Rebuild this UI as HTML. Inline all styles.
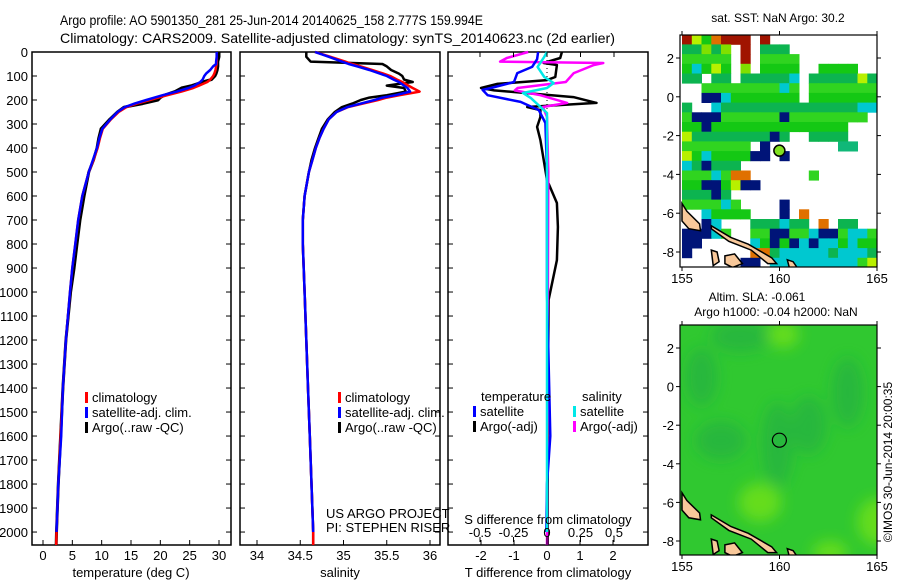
<!DOCTYPE html>
<html><head><meta charset="utf-8"><style>
html,body{margin:0;padding:0;background:#fff;}
svg{display:block;font-family:"Liberation Sans",sans-serif;}
</style></head><body>
<svg id="fig" width="900" height="580" viewBox="0 0 900 580" xmlns="http://www.w3.org/2000/svg">
<text x="60" y="25" font-size="14" textLength="423" lengthAdjust="spacingAndGlyphs">Argo profile: AO 5901350_281 25-Jun-2014 20140625_158 2.777S 159.994E</text>
<text x="60" y="43" font-size="14" textLength="555" lengthAdjust="spacingAndGlyphs">Climatology: CARS2009. Satellite-adjusted climatology: synTS_20140623.nc (2d earlier)</text>
<g id="plots"></g>
</svg>
<script>
// ---- profile data (depth in m) ----
const depths   = [0,20,40,50,60,75,90,100,115,125,140,150,165,180,190,200,215,230,250,280,320,360,400,450,500,600,700,800,900,1000,1200,1400,1600,1800,2000,2054];
const tempClim = [29.6,29.6,29.6,29.6,29.5,29.4,29.2,29.0,28.5,28.0,26.6,25.6,23.6,21.2,19.7,18.2,16.0,14.2,12.9,11.6,10.2,9.7,9.3,8.6,7.8,6.7,6.0,5.5,5.0,4.6,3.9,3.4,3.0,2.6,2.3,2.25];
const tempSat  = [29.6,29.6,29.5,29.5,29.0,28.5,27.8,27.5,27.2,26.8,25.8,24.8,22.8,20.4,19.0,17.6,15.6,13.9,12.7,11.5,10.1,9.6,9.2,8.5,7.8,6.7,6.0,5.5,5.0,4.6,3.9,3.4,3.1,2.6,2.3];
const tempArgo = [30.0,30.0,29.8,29.8,29.8,29.7,29.5,29.3,28.7,27.2,25.4,23.6,22.5,20.7,20.0,19.6,17.0,13.8,12.7,11.4,9.9,9.5,9.2,8.6,7.8,7.0,6.3,5.8,5.3,4.7,3.9,3.4,3.0,2.6,2.3,2.25];
const salClim  = [34.67,34.85,35.02,35.1,35.2,35.33,35.46,35.54,35.62,35.68,35.75,35.8,35.88,35.65,35.5,35.4,35.22,35.05,34.92,34.83,34.77,34.72,34.68,34.64,34.6,34.55,34.53,34.53,34.54,34.55,34.57,34.59,34.61,34.63,34.65,34.65];
const salSat   = [34.67,34.83,34.98,35.06,35.16,35.3,35.42,35.5,35.58,35.64,35.7,35.74,35.77,35.6,35.45,35.36,35.2,35.04,34.92,34.83,34.77,34.72,34.68,34.64,34.6,34.55,34.53,34.53,34.54,34.55,34.57,34.59,34.61,34.63,34.65];
const salArgo  = [34.57,34.57,34.62,35.45,35.5,35.55,35.64,35.68,35.7,35.8,35.5,35.7,35.72,35.5,35.3,35.2,35.1,34.98,34.9,34.82,34.75,34.71,34.67,34.63,34.6,34.55,34.53,34.53,34.54,34.55,34.57,34.59,34.61,34.63,34.65,34.65];
// ---- difference panel data ----
const dTArgoDepth = [0,25,46,54,104,117,133,150,160,175,188,212,229,242,271,312,367,533,629,729,867,1033,1500,2054];
const dTArgo      = [0.45,0.4,-0.1,0.3,0.25,0.0,-1.5,-2.0,-1.6,-0.3,0.8,1.5,-0.6,-0.2,-0.2,-0.3,-0.2,0.0,0.3,0.33,0.3,0.05,0.02,0.02];
const dTSatDepth  = [0,30,62,88,125,150,158,180,208,242,296,500,1000,1600,1800,2000];
const dTSat       = [-0.27,-0.3,-0.45,-0.9,-1.0,-1.7,-1.95,-1.8,-0.8,-0.25,-0.05,0.0,0.0,0.1,0.0,-0.02];
const dSArgoDepth = [0,25,40,46,54,88,125,150,160,180,212,229,271,500,2054];
const dSArgo      = [-0.14,-0.3,-0.35,0.42,0.35,0.2,0.14,-0.22,-0.24,-0.05,0.15,-0.03,0.0,0.01,0.0];
const dSSatDepth  = [0,20,62,104,129,150,171,192,254,1000,2000];
const dSSat       = [0.0,-0.02,-0.07,-0.02,0.05,0.0,-0.18,-0.12,0.0,0.0,0.0];
// ---- axis ticks ----
const depthTicks = [0,100,200,300,400,500,600,700,800,900,1000,1100,1200,1300,1400,1500,1600,1700,1800,1900,2000];
const tempTicks = [0,5,10,15,20,25,30];
const salTicks = [34,34.5,35,35.5,36];
const salTickLabels = ["34","34.5","35","35.5","36"];
const dTTicks = [-2,-1,0,1,2];
const dSTicks = [-0.5,-0.25,0,0.25,0.5];
const dSTickLabels = ["-0.5","-0.25","0","0.25","0.5"];
// ---- SST map (0.5 deg cells, rows from 3.2N southward, cols from 155E) ----
const sstRows = [
"rygorrr.r...........",
"gglgl.r.ggg.........",
"ggggg.r.gggg........",
"gcgyg.l.gggg..gggg..",
"gg.gg.gggggc.gggggyg",
"..ggggggggcg.ggggggg",
"..bbcggggggg.ggggggg",
"g..cggggggggggggggcc",
"gbbbggggggbgggggggg.",
"ggbgggggggggggggg...",
"yggggggggbg..gggg...",
"ggggggg.b.......GG..",
"ygcggggbb.b.........",
"cgbggg..............",
"gggcgoo......g......",
"ggbbgybb............",
"gggbg...............",
"ggggcg....b.........",
"..cgggg...b.o.......",
"..bc...gggcgg.o.gg..",
"bbbcg..ggbbggcbbgccg",
"bb.....cgbgbcbccgcgg",
"b......oogcccccgcccg",
"......bb.cccccccccgy"];
const sstColors = {r:"#a01400",o:"#e07000",y:"#b8f000",l:"#80e000",c:"#00c8d0",b:"#001478",G:"#10b878"};
const greens = ["#14c814","#0cb450","#30d420"];
// SLA blobs: lon, lat, rx(deg), ry(deg), type
const slaLon = [157,159.9,163.5,158,159,165,162.6,160.2,156,161.5];
const slaLat = [-2.8,-3.0,-0.3,2.6,-6.0,-7.0,-8.6,2.7,0.5,-2];
const slaRx  = [1.3,0.8,0.8,1.5,1.1,1.0,0.9,0.8,0.8,0.9];
const slaRy  = [1.0,2.2,1.8,0.8,1.0,1.2,0.6,0.7,1.5,1.5];
const slaType= ["d","d","d","d","l","l","l","l","d","d"];

const NS="http://www.w3.org/2000/svg";
const root=document.getElementById('plots');
function mk(tag,attrs,parent,text){const e=document.createElementNS(NS,tag);for(const k in attrs)e.setAttribute(k,attrs[k]);if(text!==undefined)e.textContent=text;(parent||root).appendChild(e);return e;}

const yTop=52, yBot=545, dMax=2054;
const yD=d=>yTop+d*(yBot-yTop)/dMax;
function linX(v0,x0,v1,x1){return v=>x0+(v-v0)*(x1-x0)/(v1-v0);}
const xT=linX(0,43,30,219);
const xS=linX(34,257,36,430);
const xdT=linX(0,547,2,613);
const xdS=linX(0,547,0.5,614);

function frame(x0,x1,name){
  const r=mk('rect',{x:x0,y:yTop,width:x1-x0,height:yBot-yTop,fill:'none',stroke:'#000','stroke-width':1.5});
  
  
  for(const d of depthTicks){
    const t=mk('line',{x1:x0,x2:x0+5,y1:yD(d),y2:yD(d),stroke:'#000'});
    
    
    const t2=mk('line',{x1:x1,x2:x1-5,y1:yD(d),y2:yD(d),stroke:'#000'});
    
    
  }
}
function line(xs,ds,xf,color,name,w){
  const pts=xs.map((v,i)=>xf(v).toFixed(1)+','+yD(ds[i]).toFixed(1)).join(' ');
  const p=mk('polyline',{points:pts,fill:'none',stroke:color,'stroke-width':w||2.5,'stroke-linejoin':'round'});
  
  
}
function txt(x,y,s,name,opts){
  const a=Object.assign({x:x,y:y,'font-size':13},opts||{});
  const t=mk('text',a,root,s);
  
  
  return t;
}
function xticks(vals,labels,xf,x0,x1,yLab,name,top){
  vals.forEach((v,i)=>{
    const x=xf(v);
    const t=mk('line',{x1:x,x2:x,y1:yBot,y2:yBot-5,stroke:'#000'});
    
    
    if(top){const t2=mk('line',{x1:x,x2:x,y1:yTop,y2:yTop+5,stroke:'#000'});
      
      }
    txt(x,yLab,labels[i],name+'-label',{'text-anchor':'middle'});
  });
}
function legendEntry(x,y,color,label,name){
  const r=mk('rect',{x:x,y:y-10,width:3,height:11,fill:color});
  
  
  txt(x+7,y,label,name);
}

// ---- panel 1: temperature ----
frame(32,231,'temperature-plot-frame');
depthTicks.forEach(d=>txt(28,yD(d)+5,String(d),'depth-tick-label',{'text-anchor':'end'}));
line(tempArgo,depths,xT,'#000','temperature-argo-line',3);
line(tempClim,depths,xT,'#ff0000','temperature-climatology-line');
line(tempSat,depths.slice(0,tempSat.length),xT,'#0000ff','temperature-satellite-line');
xticks(tempTicks,tempTicks.map(String),xT,32,231,560,'temperature-axis');
txt(131,577,'temperature (deg C)','temperature-axis-title',{'text-anchor':'middle'});
legendEntry(85,402,'#ff0000','climatology','temp-legend-climatology');
legendEntry(85,417,'#0000ff','satellite-adj. clim.','temp-legend-satellite');
legendEntry(85,432,'#000','Argo(..raw -QC)','temp-legend-argo');

// ---- panel 2: salinity ----
frame(240,440,'salinity-plot-frame');
line(salArgo,depths,xS,'#000','salinity-argo-line',2.5);
line(salClim,depths,xS,'#ff0000','salinity-climatology-line');
line(salSat,depths.slice(0,salSat.length),xS,'#0000ff','salinity-satellite-line');
xticks(salTicks,salTickLabels,xS,240,440,560,'salinity-axis');
txt(340,577,'salinity','salinity-axis-title',{'text-anchor':'middle'});
legendEntry(338,402,'#ff0000','climatology','sal-legend-climatology');
legendEntry(338,417,'#0000ff','satellite-adj. clim.','sal-legend-satellite');
legendEntry(338,432,'#000','Argo(..raw -QC)','sal-legend-argo');
txt(326,518,'US ARGO PROJECT','project-label');
txt(326,532,'PI: STEPHEN RISER','pi-label');

// ---- panel 3: differences ----
frame(448,648,'difference-plot-frame');
const zl=mk('line',{x1:xdT(0),x2:xdT(0),y1:yTop,y2:yBot,stroke:'#000','stroke-dasharray':'1,3'});


line(dTArgo,dTArgoDepth,xdT,'#000','t-diff-argo-line');
line(dSArgo,dSArgoDepth,xdS,'#ff00ff','s-diff-argo-line');
line(dTSat,dTSatDepth,xdT,'#0000ff','t-diff-satellite-line');
line(dSSat,dSSatDepth,xdS,'#00e8e8','s-diff-satellite-line');
xticks(dTTicks,dTTicks.map(String),xdT,448,648,560,'t-diff-axis');
dSTicks.forEach((v,i)=>{
  const x=xdS(v);
  const t=mk('line',{x1:x,x2:x,y1:yTop,y2:yTop+5,stroke:'#000'});
  
  
  const t2=mk('line',{x1:x,x2:x,y1:yBot-8,y2:yBot-3,stroke:'#000'});
  
  
  txt(x,537,dSTickLabels[i],'s-diff-axis-label',{'text-anchor':'middle'});
});
txt(548,524,'S difference from climatology','s-diff-axis-title',{'text-anchor':'middle'});
txt(548,577,'T difference from climatology','t-diff-axis-title',{'text-anchor':'middle'});
txt(481,401,'temperature','diff-legend-temperature-header');
txt(582,401,'salinity','diff-legend-salinity-header');
legendEntry(473,416,'#0000ff','satellite','diff-legend-t-satellite');
legendEntry(473,431,'#000','Argo(-adj)','diff-legend-t-argo');
legendEntry(573,416,'#00e8e8','satellite','diff-legend-s-satellite');
legendEntry(573,431,'#ff00ff','Argo(-adj)','diff-legend-s-argo');

// ---- maps ----
const mxL=680,mxR=877;
const lonX=lon=>682+(lon-155)*19.5;
function mapAxes(top,bot,latY,name){
  [2,0,-2,-4,-6,-8].forEach(l=>{
    const y=latY(l);
    const t=mk('line',{x1:mxL-4,x2:mxL,y1:y,y2:y,stroke:'#000'});
    
    
    const t2=mk('line',{x1:mxR,x2:mxR+4,y1:y,y2:y,stroke:'#000'});
    
    
    txt(674,y+5,String(l),name+'-lat-label',{'text-anchor':'end'});
  });
  [155,160,165].forEach(l=>{
    const x=lonX(l);
    const t=mk('line',{x1:x,x2:x,y1:top-4,y2:top,stroke:'#000'});
    
    
    const t2=mk('line',{x1:x,x2:x,y1:bot,y2:bot+4,stroke:'#000'});
    
    
    txt(x,bot+16,String(l),name+'-lon-label',{'text-anchor':'middle'});
  });
  const f=mk('rect',{x:mxL,y:top,width:mxR-mxL,height:bot-top,fill:'none',stroke:'#000','stroke-width':1.2});
  
  
}
function land(latY,group){
  const P=(lon,lat)=>lonX(lon).toFixed(1)+','+latY(lat).toFixed(1);
  const shapes=[
    [[155,-5.5],[155.25,-5.9],[155.9,-6.55],[155.95,-6.9],[155.35,-6.8],[155,-6.4]],
    [[156.5,-6.65],[157.5,-7.25],[158.4,-7.6],[159.6,-8.3],[159.85,-8.6],[159.4,-8.6],[158.55,-7.9],[157.4,-7.45],[156.5,-6.8]],
    [[156.5,-7.9],[156.8,-8.0],[156.9,-8.5],[156.6,-8.7]],
    [[157.2,-8.2],[157.7,-8.1],[158.1,-8.6],[157.6,-8.8],[157.2,-8.6]],
    [[160.4,-8.4],[160.7,-8.5],[160.9,-8.8],[160.5,-8.8]]];
  shapes.forEach(s=>{
    const p=mk('polygon',{points:s.map(q=>P(q[0],q[1])).join(' '),fill:'#f8c89a',stroke:'#000','stroke-width':1.5},group);
    
    
  });
}
// top SST map
const sTop=35,sBot=267;
const sLatY=lat=>58+(2-lat)*19.4;
const clip1=mk('clipPath',{id:'c1'});mk('rect',{x:mxL,y:sTop,width:mxR-mxL,height:sBot-sTop},clip1);
const g1=mk('g',{'clip-path':'url(#c1)'});


sstRows.forEach((row,r)=>{
  for(let c=0;c<row.length;c++){
    const ch=row[c]; if(ch==='.') continue;
    const col=ch==='g'?greens[(r*7+c*3)%3]:sstColors[ch];
    const lat0=3.2-0.5*r, lon0=155+0.5*c;
    const x=lonX(lon0), y=sLatY(lat0);
    const cell=mk('rect',{x:x.toFixed(1),y:y.toFixed(1),width:(lonX(lon0+0.5)-x+0.4).toFixed(1),height:(sLatY(lat0-0.5)-y+0.4).toFixed(1),fill:col},g1);
    
    
  }
});
land(sLatY,g1);
const ac=mk('circle',{cx:lonX(159.994),cy:sLatY(-2.777),r:5.5,fill:'#80e020',stroke:'#000','stroke-width':1.5});


mapAxes(sTop,sBot,sLatY,'sst-map');
txt(778,22,'sat. SST: NaN Argo: 30.2','sst-map-title',{'text-anchor':'middle','font-size':12});

// bottom SLA map
const bTop=325,bBot=555;
const bLatY=lat=>348+(2-lat)*19.3;
const defs=mk('defs',{});
const flt=mk('filter',{id:'blur',x:'-50%',y:'-50%',width:'200%',height:'200%'},defs);
mk('feGaussianBlur',{stdDeviation:7},flt);
const clip2=mk('clipPath',{id:'c2'},defs);mk('rect',{x:mxL,y:bTop,width:mxR-mxL,height:bBot-bTop},clip2);
const g2=mk('g',{'clip-path':'url(#c2)'});


mk('rect',{x:mxL,y:bTop,width:mxR-mxL,height:bBot-bTop,fill:'#30c830'},g2);
const gb=mk('g',{filter:'url(#blur)'},g2);
slaLon.forEach((lon,i)=>{
  const e=mk('ellipse',{cx:lonX(lon),cy:bLatY(slaLat[i]),rx:slaRx[i]*19.5,ry:slaRy[i]*19.3,fill:slaType[i]==='d'?'#1faa48':'#6ee014','fill-opacity':slaType[i]==='d'?0.55:0.85},gb);
  
  
});
land(bLatY,g2);
const bc=mk('circle',{cx:lonX(159.994),cy:bLatY(-2.777),r:7,fill:'none',stroke:'#000','stroke-width':1.2});


mapAxes(bTop,bBot,bLatY,'sla-map');
txt(757,301,'Altim. SLA: -0.061','sla-map-title-1',{'text-anchor':'middle','font-size':12});
txt(776,316,'Argo h1000: -0.04 h2000: NaN','sla-map-title-2',{'text-anchor':'middle','font-size':12});
txt(0,0,'©IMOS 30-Jun-2014 20:00:35','imos-timestamp',{'text-anchor':'middle','font-size':12,transform:'translate(892,462) rotate(-90)'});
</script>
</body></html>
